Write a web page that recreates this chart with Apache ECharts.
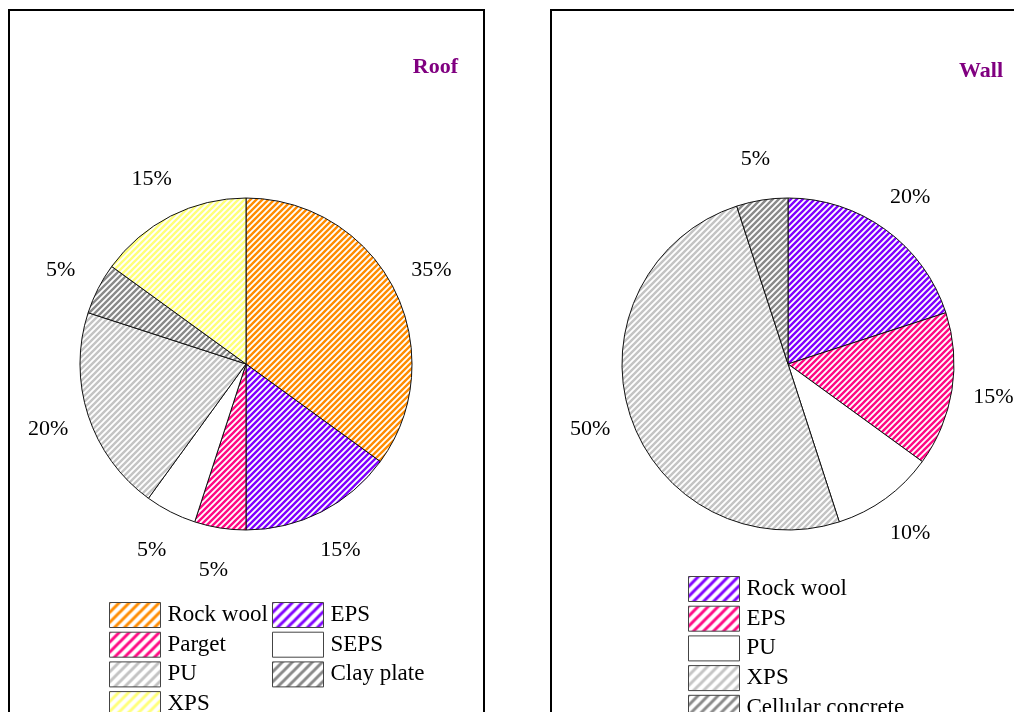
<!DOCTYPE html>
<html>
<head>
<meta charset="utf-8">
<script src="https://cdn.jsdelivr.net/npm/echarts@6/dist/echarts.min.js"></script>
<style>
  html, body { margin: 0; padding: 0; background: #fff; }
  #chart { width: 1014px; height: 712px; }
</style>
</head>
<body>
<div id="chart"></div>
<script>
// Roof insulation materials (share of use, %)
const roofCategories = ['Rock wool', 'EPS', 'Parget', 'SEPS', 'PU', 'Clay plate', 'XPS'];
const roofShares = [35, 15, 5, 5, 20, 5, 15];
const roofColors = ['#ff8c00', '#8000ff', '#ff0a84', null, '#c4c4c4', '#8a8a8a', '#ffff7a'];
const roofLegendLeft = ['Rock wool', 'Parget', 'PU', 'XPS'];
const roofLegendRight = ['EPS', 'SEPS', 'Clay plate'];

// Wall insulation materials (share of use, %)
const wallCategories = ['Rock wool', 'EPS', 'PU', 'XPS', 'Cellular concrete'];
const wallShares = [20, 15, 10, 50, 5];
const wallColors = ['#8000ff', '#ff0a84', null, '#c4c4c4', '#8a8a8a'];

const FONT = '"Liberation Serif", "Times New Roman", serif';

// Diagonal "/" hatch tile used as a fill pattern
function hatch(color, size, width) {
  if (!color) return '#ffffff';
  const c = document.createElement('canvas');
  c.width = size; c.height = size;
  const ctx = c.getContext('2d');
  ctx.fillStyle = '#ffffff';
  ctx.fillRect(0, 0, size, size);
  ctx.strokeStyle = color;
  ctx.lineWidth = width;
  ctx.lineCap = 'square';
  ctx.beginPath();
  ctx.moveTo(0, size); ctx.lineTo(size, 0);
  ctx.moveTo(-size, size); ctx.lineTo(size, -size);
  ctx.moveTo(0, 2 * size); ctx.lineTo(2 * size, 0);
  ctx.stroke();
  return { image: c, repeat: 'repeat' };
}

function pieData(names, values, colors) {
  return names.map((n, i) => ({
    name: n, value: values[i],
    itemStyle: { color: hatch(colors[i], 6, 2.4) }
  }));
}

function labelData(names, values) {
  return names.map((n, i) => ({ name: n, value: values[i] }));
}

function legendData(list, names, colors) {
  return list.map(n => ({
    name: n,
    itemStyle: { color: hatch(colors[names.indexOf(n)], 10, 3) }
  }));
}

const R = 166;

function mainPie(center, names, values, colors) {
  return {
    type: 'pie',
    center: center,
    radius: [0, R],
    startAngle: 90,
    clockwise: true,
    silent: true,
    label: { show: false },
    labelLine: { show: false },
    emphasis: { disabled: true },
    itemStyle: { borderColor: '#111', borderWidth: 1 },
    data: pieData(names, values, colors),
    z: 2
  };
}

// Invisible ring whose "inside" labels sit just outside the drawn pie
function labelPie(center, names, values) {
  return {
    type: 'pie',
    center: center,
    radius: [0, 2 * (R + 39)],
    startAngle: 90,
    clockwise: true,
    silent: true,
    itemStyle: { color: 'rgba(0,0,0,0)', borderWidth: 0 },
    emphasis: { disabled: true },
    labelLine: { show: false },
    label: {
      show: true,
      position: 'inside',
      formatter: '{c}%',
      color: '#000',
      fontFamily: FONT,
      fontSize: 22
    },
    data: labelData(names, values),
    z: 1
  };
}

const legendBase = {
  type: 'plain',
  orient: 'vertical',
  icon: 'rect',
  padding: 0,
  height: 200,
  itemWidth: 51,
  itemHeight: 25,
  itemGap: 3.7,
  selectedMode: false,
  itemStyle: { borderColor: '#444', borderWidth: 1 },
  textStyle: { color: '#000', fontFamily: FONT, fontSize: 23, padding: [0, 0, 0, 2] }
};

const option = {
  backgroundColor: '#ffffff',
  animation: false,
  legend: [
    Object.assign({}, legendBase, { left: 109, top: 602, data: legendData(roofLegendLeft, roofCategories, roofColors) }),
    Object.assign({}, legendBase, { left: 272, top: 602, data: legendData(roofLegendRight, roofCategories, roofColors) }),
    Object.assign({}, legendBase, { left: 688, top: 576, data: legendData(wallCategories, wallCategories, wallColors) })
  ],
  graphic: [
    { type: 'rect', shape: { x: 9, y: 10, width: 475, height: 740 },
      style: { fill: 'none', stroke: '#000', lineWidth: 2 }, silent: true },
    { type: 'rect', shape: { x: 551, y: 10, width: 520, height: 740 },
      style: { fill: 'none', stroke: '#000', lineWidth: 2 }, silent: true },
    { type: 'text', x: 458, y: 67,
      style: { text: 'Roof', align: 'right', verticalAlign: 'middle',
               font: 'bold 22px ' + FONT, fill: '#800080' } },
    { type: 'text', x: 1003, y: 71,
      style: { text: 'Wall', align: 'right', verticalAlign: 'middle',
               font: 'bold 22px ' + FONT, fill: '#800080' } }
  ],
  series: [
    mainPie([246, 364], roofCategories, roofShares, roofColors),
    mainPie([788, 364], wallCategories, wallShares, wallColors),
    labelPie([246, 365], roofCategories, roofShares),
    labelPie([788, 365], wallCategories, wallShares)
  ]
};

const chart = echarts.init(document.getElementById('chart'), null, { renderer: 'canvas' });
chart.setOption(option);
</script>
</body>
</html>
